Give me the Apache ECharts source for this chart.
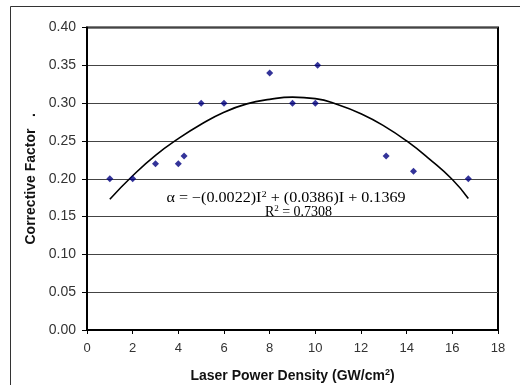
<!DOCTYPE html>
<html>
<head>
<meta charset="utf-8">
<script src="https://cdn.jsdelivr.net/npm/echarts@6/dist/echarts.min.js"></script>
<style>html,body{margin:0;padding:0;background:#fff;}#c{width:520px;height:385px;}</style>
</head>
<body>
<div id="c"></div>
<script>
// Measured points
const pointX = [1, 2, 3, 4, 4.25, 5, 6, 8, 9, 10, 10.1, 13.1, 14.3, 16.7];
const pointY = [0.20, 0.20, 0.22, 0.22, 0.23, 0.30, 0.30, 0.34, 0.30, 0.30, 0.35, 0.23, 0.21, 0.20];
// Trend curve
const curveX = [1, 2, 3, 4, 5, 6, 7, 8, 9, 10, 11, 12, 13, 14, 15, 16, 16.7];
const curveY = [0.173, 0.204, 0.231, 0.253, 0.272, 0.288, 0.299, 0.305, 0.308, 0.306, 0.298, 0.286, 0.270, 0.250, 0.226, 0.199, 0.174];
const xTicks = [0, 2, 4, 6, 8, 10, 12, 14, 16, 18];
const yTicks = [0.00, 0.05, 0.10, 0.15, 0.20, 0.25, 0.30, 0.35, 0.40];

const chart = echarts.init(document.getElementById('c'), null, {renderer: 'canvas'});
const ff = 'Liberation Sans, Arial, sans-serif';
chart.setOption({
  animation: false,
  backgroundColor: '#fff',
  grid: {left: 87, right: 22, top: 27.5, bottom: 55, containLabel: false, outerBoundsMode: 'none',
    show: true, borderColor: '#000', borderWidth: 2},
  xAxis: {
    type: 'value', min: xTicks[0], max: xTicks[xTicks.length - 1], interval: 2,
    axisLine: {show: true, lineStyle: {color: '#000', width: 2}},
    axisTick: {show: true, length: 4, lineStyle: {color: '#000'}},
    splitLine: {show: false},
    axisLabel: {margin: 12, formatter: v => String(v), fontFamily: ff, fontSize: 13, color: '#333'},
    name: 'Laser Power Density (GW/cm{sup|2})',
    nameLocation: 'middle', nameGap: 38,
    nameTextStyle: {fontFamily: ff, fontSize: 14, fontWeight: 'bold', color: '#111',
      rich: {sup: {fontSize: 9, fontWeight: 'bold', verticalAlign: 'top', padding: [0, 0, 7, 0], fontFamily: ff, color: '#111'}}}
  },
  yAxis: {
    type: 'value', min: yTicks[0], max: yTicks[yTicks.length - 1], interval: 0.05,
    axisLine: {show: true, lineStyle: {color: '#000', width: 2}},
    axisTick: {show: true, length: 5, lineStyle: {color: '#000'}},
    splitLine: {show: true, lineStyle: {color: '#444', width: 1}},
    axisLabel: {margin: 11, formatter: v => v.toFixed(2), fontFamily: ff, fontSize: 14, color: '#333'},
    name: 'Corrective Factor   .',
    nameLocation: 'middle', nameGap: 46,
    nameTextStyle: {fontFamily: ff, fontSize: 14, fontWeight: 'bold', color: '#111'}
  },
  series: [
    {
      type: 'line', data: curveX.map((x, i) => [x, curveY[i]]), smooth: true, showSymbol: false,
      lineStyle: {color: '#000', width: 1.6}, z: 2
    },
    {
      type: 'scatter', data: pointX.map((x, i) => [x, pointY[i]]), symbol: 'diamond', symbolSize: 7,
      itemStyle: {color: '#00007f'}, z: 3
    }
  ],
  graphic: [
    {type: 'rect', shape: {x: 10.5, y: 6.5, width: 700, height: 500}, style: {fill: null, stroke: '#333', lineWidth: 1}, silent: true, z: -1},
    {type: 'text', x: 286, y: 198, scaleX: 1.15, style: {
      text: 'α = −(0.0022)I{sup|2} + (0.0386)I + 0.1369', align: 'center', verticalAlign: 'middle',
      font: '14px "Liberation Serif", "Times New Roman", serif', fill: '#000',
      rich: {sup: {fontSize: 9, verticalAlign: 'top', padding: [0, 0, 6, 0], fontFamily: 'Liberation Serif', fill: '#000'}}
    }, z: 10},
    {type: 'text', x: 298.5, y: 212, style: {
      text: 'R{sup|2} = 0.7308', align: 'center', verticalAlign: 'middle',
      font: '14px "Liberation Serif", "Times New Roman", serif', fill: '#000',
      rich: {sup: {fontSize: 9, verticalAlign: 'top', padding: [0, 0, 6, 0], fontFamily: 'Liberation Serif', fill: '#000'}}
    }, z: 10}
  ]
});
</script>
</body>
</html>
